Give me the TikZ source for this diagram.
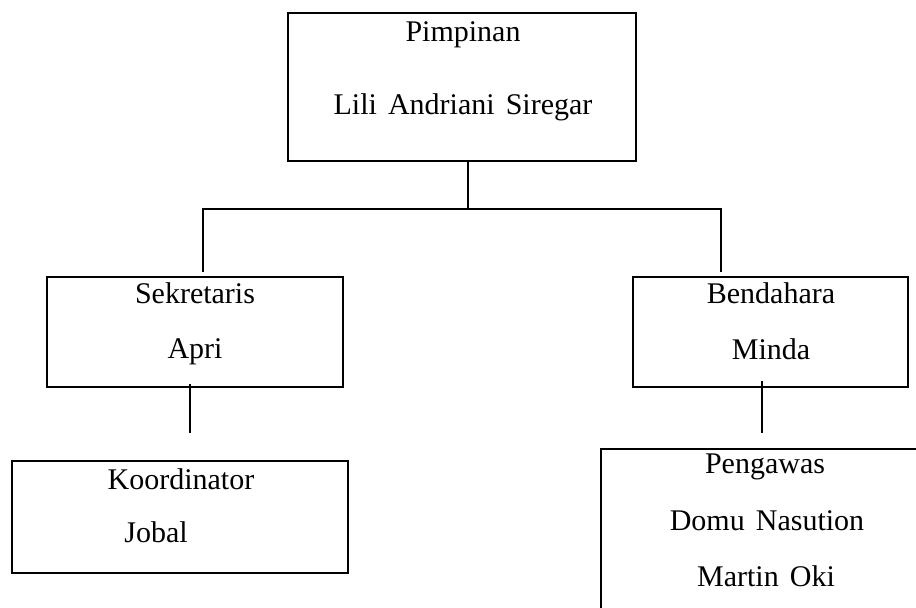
\documentclass[tikz,border=0pt]{standalone}
\usepackage{fontspec}
\setmainfont{Liberation Serif}
\usetikzlibrary{positioning, calc}

\newcommand{\wgap}{\hspace{0.37em}}

\begin{document}
\begin{tikzpicture}[
  x=0.5pt, y=-0.5pt,
  every node/.style={font=\fontsize{15}{18}\selectfont},
  unitbox/.style={draw, line width=1.1pt, inner sep=0pt},
  caption/.style={anchor=base, inner sep=0pt},
  link/.style={line width=0.8pt}
]
\useasboundingbox (0,0) rectangle (916,608);
\clip (0,0) rectangle (916,608);

% ---- TOP: Pimpinan ----
\node[unitbox, minimum width=174pt, minimum height=74pt] (pim) at (462, 87) {};
\node[caption] (pimRole) at (463, 42) {Pimpinan};
\node[caption] (pimName) at (463, 115) {Lili\wgap Andriani\wgap Siregar};

% ---- SECOND ROW: Sekretaris and Bendahara ----
\node[unitbox, minimum width=148pt, minimum height=55pt] (sek) at (195, 332) {};
\node[caption] (sekRole) at (195, 304) {Sekretaris};
\node[caption] (sekName) at (195, 359) {Apri};

\node[unitbox, minimum width=137.5pt, minimum height=55pt] (ben) at (770.5, 332) {};
\node[caption] (benRole) at (771, 304) {Bendahara};
\node[caption] (benName) at (771, 360) {Minda};

% ---- THIRD ROW: Koordinator and Pengawas ----
\node[unitbox, minimum width=168pt, minimum height=56pt] (koo) at (180, 517) {};
\node[caption] (kooRole) at (181, 490) {Koordinator};
\node[caption, anchor=base west] (kooName) at (124, 543) {Jobal};

\node[unitbox, minimum width=165pt, minimum height=100pt] (pen) at (766, 549) {};
\node[caption] (penRole) at (765, 474) {Pengawas};
\node[caption] (penName) at (767, 531) {Domu\wgap Nasution};
\node[caption] (penName2) at (766, 587) {Martin\wgap Oki};

% ---- CONNECTORS ----
\coordinate (hub) at (468, 209);
\coordinate (hubL) at (203, 209);
\coordinate (hubR) at (721, 209);
\coordinate (sekIn) at (203, 272);
\coordinate (benIn) at (721, 272);
\coordinate (sekOut) at (190, 384);
\coordinate (kooIn) at (190, 433);
\coordinate (benOut) at (762, 381);
\coordinate (penIn) at (762, 433);

\draw[link] (pim.south -| hub) -- (hub);
\draw[link] (sekIn) -- (hubL) -- (hubR) -- (benIn);
\draw[link] (sekOut) -- (kooIn);
\draw[link] (benOut) -- (penIn);

\end{tikzpicture}
\end{document}
